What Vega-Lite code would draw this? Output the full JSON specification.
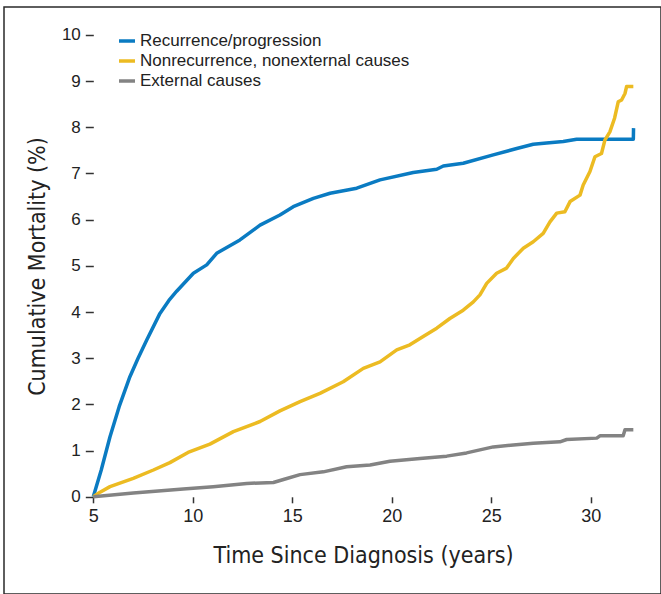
{
  "$schema": "https://vega.github.io/schema/vega-lite/v6.json",
  "width": 657,
  "height": 587,
  "autosize": {"type": "none"},
  "padding": {"left": 4, "top": 7, "right": 0, "bottom": 0},
  "background": "white",
  "config": {
    "view": {"stroke": "#2a2a2a", "strokeWidth": 1.5},
    "axis": {"grid": false, "domain": false, "tickColor": "#333", "tickWidth": 1.5, "labelColor": "#222", "titleColor": "#222", "titleFontWeight": "normal", "titleFont": "DejaVu Sans Condensed, sans-serif", "titleFontSize": 23}
  },
  "datasets": {
    "curves": [
      {"t": 5.0, "v": 0.0, "cause": "Recurrence/progression"},
      {"t": 5.4, "v": 0.58, "cause": "Recurrence/progression"},
      {"t": 5.84, "v": 1.3, "cause": "Recurrence/progression"},
      {"t": 6.3, "v": 1.95, "cause": "Recurrence/progression"},
      {"t": 6.84, "v": 2.6, "cause": "Recurrence/progression"},
      {"t": 7.25, "v": 3.0, "cause": "Recurrence/progression"},
      {"t": 7.68, "v": 3.39, "cause": "Recurrence/progression"},
      {"t": 8.35, "v": 3.97, "cause": "Recurrence/progression"},
      {"t": 8.8, "v": 4.25, "cause": "Recurrence/progression"},
      {"t": 9.19, "v": 4.45, "cause": "Recurrence/progression"},
      {"t": 10.03, "v": 4.84, "cause": "Recurrence/progression"},
      {"t": 10.7, "v": 5.02, "cause": "Recurrence/progression"},
      {"t": 11.2, "v": 5.27, "cause": "Recurrence/progression"},
      {"t": 12.37, "v": 5.56, "cause": "Recurrence/progression"},
      {"t": 13.38, "v": 5.88, "cause": "Recurrence/progression"},
      {"t": 14.38, "v": 6.1, "cause": "Recurrence/progression"},
      {"t": 15.05, "v": 6.28, "cause": "Recurrence/progression"},
      {"t": 16.06, "v": 6.46, "cause": "Recurrence/progression"},
      {"t": 16.9, "v": 6.57, "cause": "Recurrence/progression"},
      {"t": 18.24, "v": 6.68, "cause": "Recurrence/progression"},
      {"t": 19.41, "v": 6.86, "cause": "Recurrence/progression"},
      {"t": 21.08, "v": 7.02, "cause": "Recurrence/progression"},
      {"t": 22.26, "v": 7.09, "cause": "Recurrence/progression"},
      {"t": 22.59, "v": 7.16, "cause": "Recurrence/progression"},
      {"t": 23.59, "v": 7.22, "cause": "Recurrence/progression"},
      {"t": 25.1, "v": 7.4, "cause": "Recurrence/progression"},
      {"t": 26.28, "v": 7.54, "cause": "Recurrence/progression"},
      {"t": 27.11, "v": 7.63, "cause": "Recurrence/progression"},
      {"t": 27.78, "v": 7.66, "cause": "Recurrence/progression"},
      {"t": 28.62, "v": 7.69, "cause": "Recurrence/progression"},
      {"t": 29.29, "v": 7.74, "cause": "Recurrence/progression"},
      {"t": 32.14, "v": 7.74, "cause": "Recurrence/progression"},
      {"t": 32.15, "v": 7.98, "cause": "Recurrence/progression"},

      {"t": 5.0, "v": 0.0, "cause": "Nonrecurrence, nonexternal causes"},
      {"t": 5.34, "v": 0.1, "cause": "Nonrecurrence, nonexternal causes"},
      {"t": 5.84, "v": 0.22, "cause": "Nonrecurrence, nonexternal causes"},
      {"t": 7.01, "v": 0.4, "cause": "Nonrecurrence, nonexternal causes"},
      {"t": 8.02, "v": 0.58, "cause": "Nonrecurrence, nonexternal causes"},
      {"t": 8.85, "v": 0.74, "cause": "Nonrecurrence, nonexternal causes"},
      {"t": 9.76, "v": 0.96, "cause": "Nonrecurrence, nonexternal causes"},
      {"t": 10.86, "v": 1.14, "cause": "Nonrecurrence, nonexternal causes"},
      {"t": 12.04, "v": 1.41, "cause": "Nonrecurrence, nonexternal causes"},
      {"t": 13.38, "v": 1.63, "cause": "Nonrecurrence, nonexternal causes"},
      {"t": 14.38, "v": 1.86, "cause": "Nonrecurrence, nonexternal causes"},
      {"t": 15.39, "v": 2.06, "cause": "Nonrecurrence, nonexternal causes"},
      {"t": 16.39, "v": 2.24, "cause": "Nonrecurrence, nonexternal causes"},
      {"t": 17.56, "v": 2.49, "cause": "Nonrecurrence, nonexternal causes"},
      {"t": 18.57, "v": 2.78, "cause": "Nonrecurrence, nonexternal causes"},
      {"t": 19.41, "v": 2.92, "cause": "Nonrecurrence, nonexternal causes"},
      {"t": 20.25, "v": 3.18, "cause": "Nonrecurrence, nonexternal causes"},
      {"t": 20.91, "v": 3.29, "cause": "Nonrecurrence, nonexternal causes"},
      {"t": 21.58, "v": 3.47, "cause": "Nonrecurrence, nonexternal causes"},
      {"t": 22.26, "v": 3.65, "cause": "Nonrecurrence, nonexternal causes"},
      {"t": 22.92, "v": 3.86, "cause": "Nonrecurrence, nonexternal causes"},
      {"t": 23.59, "v": 4.04, "cause": "Nonrecurrence, nonexternal causes"},
      {"t": 24.1, "v": 4.22, "cause": "Nonrecurrence, nonexternal causes"},
      {"t": 24.43, "v": 4.37, "cause": "Nonrecurrence, nonexternal causes"},
      {"t": 24.77, "v": 4.62, "cause": "Nonrecurrence, nonexternal causes"},
      {"t": 25.27, "v": 4.84, "cause": "Nonrecurrence, nonexternal causes"},
      {"t": 25.77, "v": 4.95, "cause": "Nonrecurrence, nonexternal causes"},
      {"t": 26.11, "v": 5.16, "cause": "Nonrecurrence, nonexternal causes"},
      {"t": 26.61, "v": 5.38, "cause": "Nonrecurrence, nonexternal causes"},
      {"t": 27.11, "v": 5.52, "cause": "Nonrecurrence, nonexternal causes"},
      {"t": 27.61, "v": 5.7, "cause": "Nonrecurrence, nonexternal causes"},
      {"t": 27.95, "v": 5.95, "cause": "Nonrecurrence, nonexternal causes"},
      {"t": 28.29, "v": 6.14, "cause": "Nonrecurrence, nonexternal causes"},
      {"t": 28.7, "v": 6.17, "cause": "Nonrecurrence, nonexternal causes"},
      {"t": 28.96, "v": 6.39, "cause": "Nonrecurrence, nonexternal causes"},
      {"t": 29.46, "v": 6.53, "cause": "Nonrecurrence, nonexternal causes"},
      {"t": 29.62, "v": 6.75, "cause": "Nonrecurrence, nonexternal causes"},
      {"t": 29.96, "v": 7.04, "cause": "Nonrecurrence, nonexternal causes"},
      {"t": 30.21, "v": 7.36, "cause": "Nonrecurrence, nonexternal causes"},
      {"t": 30.54, "v": 7.43, "cause": "Nonrecurrence, nonexternal causes"},
      {"t": 30.71, "v": 7.72, "cause": "Nonrecurrence, nonexternal causes"},
      {"t": 30.96, "v": 7.9, "cause": "Nonrecurrence, nonexternal causes"},
      {"t": 31.2, "v": 8.2, "cause": "Nonrecurrence, nonexternal causes"},
      {"t": 31.38, "v": 8.55, "cause": "Nonrecurrence, nonexternal causes"},
      {"t": 31.55, "v": 8.59, "cause": "Nonrecurrence, nonexternal causes"},
      {"t": 31.72, "v": 8.73, "cause": "Nonrecurrence, nonexternal causes"},
      {"t": 31.8, "v": 8.88, "cause": "Nonrecurrence, nonexternal causes"},
      {"t": 32.14, "v": 8.88, "cause": "Nonrecurrence, nonexternal causes"},

      {"t": 5.0, "v": 0.0, "cause": "External causes"},
      {"t": 7.01, "v": 0.08, "cause": "External causes"},
      {"t": 9.52, "v": 0.17, "cause": "External causes"},
      {"t": 11.03, "v": 0.22, "cause": "External causes"},
      {"t": 12.71, "v": 0.29, "cause": "External causes"},
      {"t": 14.05, "v": 0.31, "cause": "External causes"},
      {"t": 14.6, "v": 0.38, "cause": "External causes"},
      {"t": 15.39, "v": 0.48, "cause": "External causes"},
      {"t": 16.56, "v": 0.54, "cause": "External causes"},
      {"t": 17.73, "v": 0.65, "cause": "External causes"},
      {"t": 18.91, "v": 0.69, "cause": "External causes"},
      {"t": 19.91, "v": 0.77, "cause": "External causes"},
      {"t": 21.42, "v": 0.83, "cause": "External causes"},
      {"t": 22.76, "v": 0.88, "cause": "External causes"},
      {"t": 23.76, "v": 0.95, "cause": "External causes"},
      {"t": 25.1, "v": 1.08, "cause": "External causes"},
      {"t": 26.11, "v": 1.12, "cause": "External causes"},
      {"t": 27.11, "v": 1.16, "cause": "External causes"},
      {"t": 28.45, "v": 1.19, "cause": "External causes"},
      {"t": 28.79, "v": 1.24, "cause": "External causes"},
      {"t": 30.3, "v": 1.27, "cause": "External causes"},
      {"t": 30.46, "v": 1.32, "cause": "External causes"},
      {"t": 31.63, "v": 1.32, "cause": "External causes"},
      {"t": 31.72, "v": 1.45, "cause": "External causes"},
      {"t": 32.14, "v": 1.45, "cause": "External causes"}
    ]
  },
  "layer": [
    {
      "mark": {"type": "rule", "color": "#333", "strokeWidth": 1.5},
      "encoding": {
        "x": {"datum": 5, "type": "quantitative"},
        "y": {"datum": 0, "type": "quantitative"},
        "y2": {"datum": 10.2}
      }
    },
    {
      "mark": {"type": "rule", "color": "#333", "strokeWidth": 1.5},
      "encoding": {
        "x": {"datum": 5, "type": "quantitative"},
        "x2": {"datum": 32.87},
        "y": {"datum": 0, "type": "quantitative"}
      }
    },
    {
      "data": {"name": "curves"},
      "mark": {"type": "line", "strokeWidth": 3.5, "strokeJoin": "round"},
      "encoding": {
        "x": {
          "field": "t", "type": "quantitative",
          "scale": {"domain": [0.513, 33.53], "nice": false, "zero": false},
          "axis": {
            "values": [5, 10, 15, 20, 25, 30], "offset": -97.2, "tickSize": 6, "labelPadding": 5,
            "labelFont": "Liberation Sans, Arial, sans-serif", "labelFontSize": 18,
            "title": "Time Since Diagnosis (years)", "titleX": 359, "titleY": 66, "titleAnchor": null, "titleAlign": "center", "titleBaseline": "alphabetic"
          }
        },
        "y": {
          "field": "v", "type": "quantitative",
          "scale": {"domain": [-2.104, 10.602], "nice": false, "zero": false},
          "axis": {
            "values": [0, 1, 2, 3, 4, 5, 6, 7, 8, 9, 10], "offset": -89.3, "tickSize": 8, "labelPadding": 5,
            "labelFont": "Liberation Sans, Arial, sans-serif", "labelFontSize": 17,
            "title": "Cumulative Mortality (%)", "titleX": -49, "titleY": 259, "titleAnchor": null, "titleAlign": "center", "titleBaseline": "alphabetic", "titleAngle": -90
          }
        },
        "color": {
          "field": "cause", "type": "nominal",
          "scale": {
            "domain": ["Recurrence/progression", "Nonrecurrence, nonexternal causes", "External causes"],
            "range": ["#0a7bc2", "#ecbb22", "#838383"]
          },
          "legend": {
            "orient": "none", "legendX": 113, "legendY": 24, "title": null, "padding": 0,
            "symbolType": "stroke", "symbolSize": 256, "symbolStrokeWidth": 3.5,
            "labelFont": "Liberation Sans, Arial, sans-serif", "labelFontSize": 17, "labelColor": "#222",
            "labelOffset": 3, "rowPadding": 2, "labelLimit": 400
          }
        }
      }
    }
  ]
}
